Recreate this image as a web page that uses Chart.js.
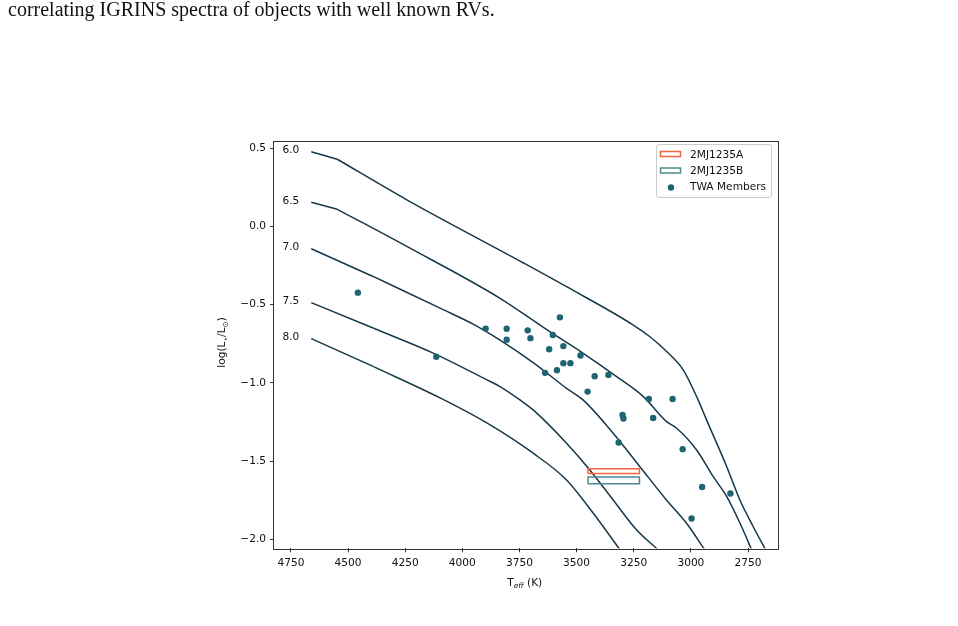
<!DOCTYPE html>
<html>
<head>
<meta charset="utf-8">
<script src="https://cdn.jsdelivr.net/npm/chart.js@4.4.1/dist/chart.umd.min.js"></script>
<style>
  html, body { margin: 0; padding: 0; background: #fff; }
  #page { position: relative; width: 958px; height: 626px; overflow: hidden; }
  #chart { position: absolute; left: 0; top: 0; }
  #caption {
    position: absolute; left: 8px; top: 0px;
    font-family: 'Liberation Serif', serif; font-size: 20px; line-height: 19px;
    color: #111; white-space: nowrap;
  }
</style>
</head>
<body>
<div id="page">
  <canvas id="chart" width="958" height="626"></canvas>
  <div id="caption">correlating IGRINS spectra of objects with well known RVs.</div>
</div>
<script>
// isochrones (log age), Teff in K and log(L/Lsun)
const isoAges = ['6.0', '6.5', '7.0', '7.5', '8.0'];

const iso60Teff = [4661, 4547, 4241, 3730, 3544, 3252, 3179, 3106, 3033, 2968, 2931, 2843, 2785, 2727, 2673];
const iso60LogL = [0.478, 0.430, 0.169, -0.235, -0.385, -0.630, -0.705, -0.800, -0.918, -1.110, -1.238, -1.536, -1.751, -1.920, -2.068];

const iso65Teff = [4661, 4547, 4241, 3835, 3617, 3471, 3325, 3208, 3106, 3062, 2975, 2902, 2843, 2785, 2734];
const iso65LogL = [0.155, 0.110, -0.129, -0.459, -0.673, -0.811, -0.960, -1.088, -1.248, -1.290, -1.429, -1.600, -1.728, -1.898, -2.068];

const iso70Teff = [4661, 4388, 4095, 3949, 3835, 3690, 3544, 3472, 3340, 3223, 3107, 3019, 2939];
const iso70LogL = [-0.142, -0.321, -0.524, -0.627, -0.726, -0.870, -1.035, -1.109, -1.322, -1.536, -1.749, -1.898, -2.068];

const iso75Teff = [4661, 4388, 4125, 3892, 3835, 3748, 3690, 3544, 3442, 3340, 3237, 3143];
const iso75LogL = [-0.487, -0.651, -0.811, -0.981, -1.024, -1.109, -1.173, -1.386, -1.557, -1.749, -1.941, -2.068];

const iso80Teff = [4661, 4388, 4095, 3891, 3690, 3544, 3427, 3310];
const iso80LogL = [-0.717, -0.896, -1.098, -1.258, -1.450, -1.621, -1.834, -2.068];

// TWA members
const twaTeff = [4457, 4114, 3898, 3806, 3806, 3714, 3702, 3573, 3604, 3620, 3558, 3483, 3558, 3527, 3638,
                 3586, 3421, 3361, 3452, 3299, 3295, 3165, 3184, 3080, 3316, 3036, 2951, 2827, 2997];
const twaLogL = [-0.423, -0.833, -0.653, -0.654, -0.724, -0.664, -0.714, -0.581, -0.694, -0.785, -0.765, -0.825, -0.874, -0.874, -0.936,
                 -0.919, -0.958, -0.949, -1.056, -1.205, -1.228, -1.225, -1.103, -1.103, -1.381, -1.424, -1.666, -1.708, -1.867];

// 2MJ1235 A / B boxes: Teff range and logL range
const compTeffRange = [3450, 3225];
const compALogL = [-1.580, -1.550];
const compBLogL = [-1.645, -1.602];

const xTicks = [4750, 4500, 4250, 4000, 3750, 3500, 3250, 3000, 2750];
const yTicks = [0.5, 0.0, -0.5, -1.0, -1.5, -2.0];

const lineColor = '#16374a';
const dotColor = '#1d6570';
const colorA = '#f4623f';
const colorB = '#4b8a8f';
const fontSize = 10.6;

function zip(xs, ys) {
  return xs.map((x, i) => ({ x: x, y: ys[i] }));
}

function box(tRange, lRange) {
  return [
    { x: tRange[0], y: lRange[0] }, { x: tRange[1], y: lRange[0] },
    { x: tRange[1], y: lRange[1] }, { x: tRange[0], y: lRange[1] },
    { x: tRange[0], y: lRange[0] }
  ];
}

const isoData = [
  zip(iso60Teff, iso60LogL), zip(iso65Teff, iso65LogL), zip(iso70Teff, iso70LogL),
  zip(iso75Teff, iso75LogL), zip(iso80Teff, iso80LogL)
];

// each track: straight first segment (keeps the sharp corner), smooth remainder
const isoSets = [];
isoData.forEach((pts, i) => {
  isoSets.push({
    label: isoAges[i] + ' head', data: pts.slice(0, 2), showLine: true,
    borderColor: lineColor, borderWidth: 1.5, pointRadius: 0, tension: 0, order: 3
  });
  isoSets.push({
    label: isoAges[i], data: pts.slice(1), showLine: true,
    borderColor: lineColor, borderWidth: 1.5, pointRadius: 0,
    cubicInterpolationMode: 'monotone', order: 3
  });
});

Chart.defaults.font.family = 'DejaVu Sans';
Chart.defaults.font.size = fontSize;
Chart.defaults.color = '#000';

const fmt = v => v.toFixed(1).replace('-', '\u2212');

// all four spines
const frame = {
  id: 'frame',
  afterDraw(chart) {
    const a = chart.chartArea, ctx = chart.ctx;
    ctx.save();
    ctx.strokeStyle = '#333';
    ctx.lineWidth = 1;
    ctx.strokeRect(Math.round(a.left) - 0.5, Math.round(a.top) + 0.5, Math.round(a.right - a.left) + 1, Math.round(a.bottom - a.top));
    ctx.restore();
  }
};

// age labels next to each isochrone
const ageLabels = {
  id: 'ageLabels',
  afterDatasetsDraw(chart) {
    const ctx = chart.ctx, xs = chart.scales.x, ys = chart.scales.y;
    ctx.save();
    ctx.font = fontSize + 'px DejaVu Sans';
    ctx.fillStyle = '#111';
    ctx.textAlign = 'right';
    ctx.textBaseline = 'middle';
    isoData.forEach((pts, i) => {
      const px = xs.getPixelForValue(pts[0].x) - 12;
      const py = ys.getPixelForValue(pts[0].y) - 1.5;
      ctx.fillText(isoAges[i], px, py);
    });
    ctx.restore();
  }
};

function drawRuns(ctx, runs, x, y) {
  runs.forEach(r => {
    ctx.font = r.font;
    ctx.fillText(r.text, x, y + (r.dy || 0));
    x += ctx.measureText(r.text).width;
  });
}
function runsWidth(ctx, runs) {
  let w = 0;
  runs.forEach(r => { ctx.font = r.font; w += ctx.measureText(r.text).width; });
  return w;
}

// axis titles with subscripts
const axisTitles = {
  id: 'axisTitles',
  afterDraw(chart) {
    const ctx = chart.ctx, a = chart.chartArea;
    const big = fontSize + 'px DejaVu Sans', small = '7.4px DejaVu Sans';
    ctx.save();
    ctx.fillStyle = '#111';
    ctx.textBaseline = 'alphabetic';
    ctx.textAlign = 'left';
    const xt = [
      { text: 'T', font: big },
      { text: 'eff', font: 'italic ' + small, dy: 2.5 },
      { text: ' (K)', font: big }
    ];
    const cx = (a.left + a.right) / 2 - 1;
    drawRuns(ctx, xt, cx - runsWidth(ctx, xt) / 2, 585.5);

    const yt = [
      { text: 'log(L', font: big },
      { text: '\u22c6', font: small, dy: 2.5 },
      { text: '/L', font: big },
      { text: '\u2299', font: small, dy: 2.5 },
      { text: ')', font: big }
    ];
    ctx.translate(225, (a.top + a.bottom) / 2 - 2);
    ctx.rotate(-Math.PI / 2);
    drawRuns(ctx, yt, -runsWidth(ctx, yt) / 2, 0);
    ctx.restore();
  }
};

// matplotlib-style legend box
const legendBox = {
  id: 'legendBox',
  afterDraw(chart) {
    const ctx = chart.ctx;
    ctx.save();
    ctx.beginPath();
    ctx.roundRect(656.5, 144.5, 115, 53, 2.5);
    ctx.fillStyle = 'rgba(255,255,255,0.8)';
    ctx.fill();
    ctx.strokeStyle = '#cccccc';
    ctx.lineWidth = 1;
    ctx.stroke();

    const rows = [154, 170.5, 187];
    ctx.lineWidth = 1.5;
    ctx.strokeStyle = colorA;
    ctx.strokeRect(660.5, rows[0] - 2.5, 20, 5);
    ctx.strokeStyle = colorB;
    ctx.strokeRect(660.5, rows[1] - 2.5, 20, 5);
    ctx.beginPath();
    ctx.arc(671, rows[2] + 0.5, 3.2, 0, Math.PI * 2);
    ctx.fillStyle = dotColor;
    ctx.fill();

    ctx.fillStyle = '#111';
    ctx.font = fontSize + 'px DejaVu Sans';
    ctx.textBaseline = 'middle';
    ctx.fillText('2MJ1235A', 690, rows[0] + 1);
    ctx.fillText('2MJ1235B', 690, rows[1] + 1);
    ctx.fillText('TWA Members', 690, rows[2]);
    ctx.restore();
  }
};

new Chart(document.getElementById('chart'), {
  type: 'scatter',
  data: {
    datasets: [
      {
        label: 'TWA Members',
        data: zip(twaTeff, twaLogL),
        backgroundColor: dotColor,
        borderWidth: 0,
        pointRadius: 3.2,
        order: 1
      },
      {
        label: '2MJ1235A',
        data: box(compTeffRange, compALogL),
        showLine: true,
        borderColor: colorA,
        borderWidth: 1.5,
        pointRadius: 0,
        tension: 0,
        order: 2
      },
      {
        label: '2MJ1235B',
        data: box(compTeffRange, compBLogL),
        showLine: true,
        borderColor: colorB,
        borderWidth: 1.5,
        pointRadius: 0,
        tension: 0,
        order: 2
      },
      ...isoSets
    ]
  },
  options: {
    responsive: false,
    animation: false,
    events: [],
    layout: { padding: { left: 214, top: 140.5, right: 180.5, bottom: 37.7 } },
    plugins: { legend: { display: false }, tooltip: { enabled: false } },
    scales: {
      x: {
        type: 'linear',
        reverse: true,
        min: 2621,
        max: 4824,
        afterBuildTicks: s => { s.ticks = xTicks.map(v => ({ value: v })); },
        afterFit: s => { s.height = 40; },
        ticks: { padding: 5, callback: v => String(v), color: '#111' },
        grid: { drawOnChartArea: false, drawTicks: true, tickLength: 4, tickColor: '#333', tickWidth: 1 },
        border: { display: false }
      },
      y: {
        type: 'linear',
        min: -2.058,
        max: 0.550,
        afterBuildTicks: s => { s.ticks = yTicks.map(v => ({ value: v })); },
        afterFit: s => { s.width = 60; },
        ticks: { padding: 4, callback: v => fmt(v), color: '#111' },
        grid: { drawOnChartArea: false, drawTicks: true, tickLength: 4, tickColor: '#333', tickWidth: 1 },
        border: { display: false }
      }
    }
  },
  plugins: [frame, ageLabels, axisTitles, legendBox]
});
</script>
</body>
</html>
